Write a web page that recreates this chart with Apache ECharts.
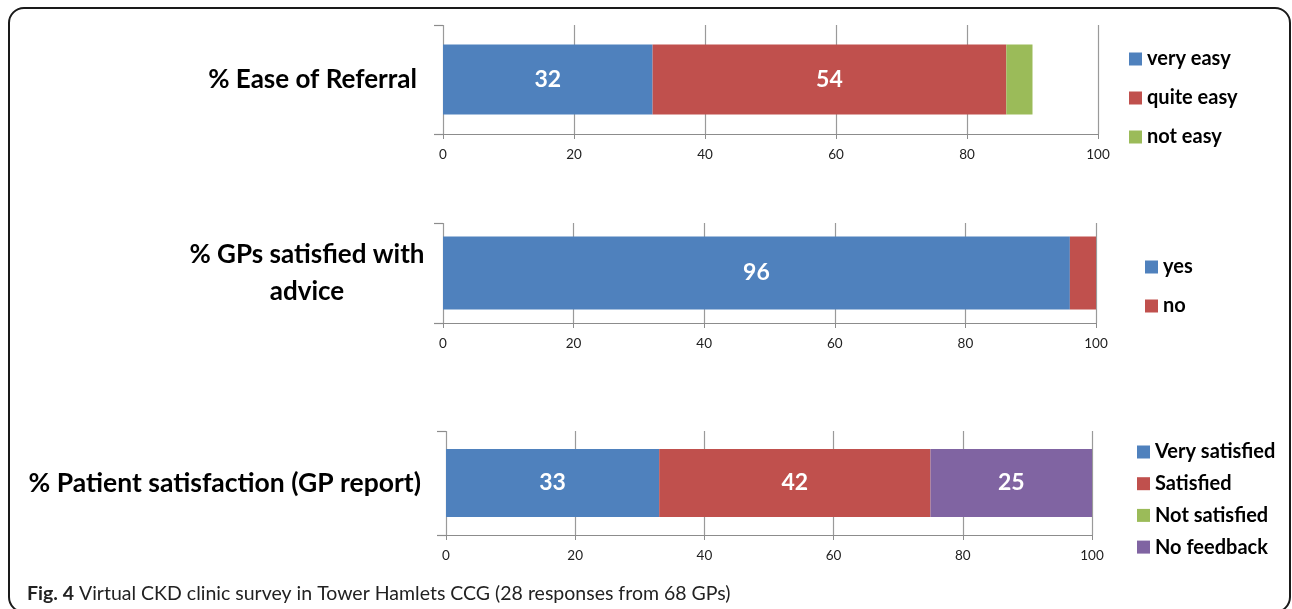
<!DOCTYPE html>
<html>
<head>
<meta charset="utf-8">
<script src="https://cdn.jsdelivr.net/npm/echarts@6/dist/echarts.min.js"></script>
<style>
html,body{margin:0;padding:0;background:#fff;}
#chart{width:1292px;height:609px;}
</style>
</head>
<body>
<div id="chart"></div>
<script>
// ---- data ----
const chartTitles = ['% Ease of Referral', '% GPs satisfied with\nadvice', '% Patient satisfaction (GP report)'];
const referralCats = ['very easy', 'quite easy', 'not easy'];
const referralVals = [32, 54, 4];
const adviceCats = ['yes', 'no'];
const adviceVals = [96, 4];
const patientCats = ['Very satisfied', 'Satisfied', 'Not satisfied', 'No feedback'];
const patientVals = [33, 42, 0, 25];
const xTicks = [0, 20, 40, 60, 80, 100];
const caption = ['Fig. 4', ' Virtual CKD clinic survey in Tower Hamlets CCG (28 responses from 68 GPs)'];

const colors = ['#4F81BD', '#C0504D', '#9BBB59', '#8064A2'];
const FONT = 'Lato';

const grids = [
  {left: 443, width: 655, top: 25, height: 109},
  {left: 443, width: 653, top: 223, height: 100},
  {left: 446, width: 646, top: 431, height: 104}
];
const barWidths = [70, 73, 68];
const groups = [
  {cats: referralCats, vals: referralVals},
  {cats: adviceCats, vals: adviceVals},
  {cats: patientCats, vals: patientVals}
];

const xAxis = [], yAxis = [], series = [], legend = [];
const yLabelCfg = [
  {align: 'right', margin: 26, size: 26},
  {align: 'center', margin: 136, size: 26},
  {align: 'right', margin: 25, size: 26.5}
];
groups.forEach((g, i) => {
  xAxis.push({
    type: 'value', gridIndex: i, min: 0, max: 100, interval: 20,
    axisLine: {show: true, lineStyle: {color: '#8c8c8c', width: 1.2}},
    axisTick: {show: true, length: 5, lineStyle: {color: '#8c8c8c'}},
    splitLine: {show: true, lineStyle: {color: '#9a9a9a', width: 1.2}},
    axisLabel: {color: '#222', fontFamily: FONT, fontSize: 13.5, margin: 14,
      formatter: v => xTicks.includes(v) ? String(v) : ''}
  });
  yAxis.push({
    type: 'category', gridIndex: i, data: [chartTitles[i]],
    axisLine: {show: false},
    axisTick: {show: true, length: 9, lineStyle: {color: '#8c8c8c', width: 1.2}},
    axisLabel: {color: '#000', fontFamily: FONT, fontWeight: 'bold', fontSize: yLabelCfg[i].size,
      lineHeight: 37, align: yLabelCfg[i].align, margin: yLabelCfg[i].margin}
  });
  g.cats.forEach((c, j) => {
    series.push({
      name: c, type: 'bar', stack: 's' + i, xAxisIndex: i, yAxisIndex: i,
      data: [g.vals[j]], barWidth: barWidths[i],
      itemStyle: {color: colors[j]},
      label: {show: g.vals[j] >= 10, color: '#fff', fontFamily: FONT, fontWeight: 'bold', fontSize: 23},
      emphasis: {disabled: true}, animation: false
    });
  });
});

const legendText = {fontFamily: FONT, fontWeight: 'bold', fontSize: 20, color: '#000', padding: [0, 0, 0, 0]};
legend.push({data: referralCats, orient: 'vertical', left: 1124, top: 44, itemWidth: 13, itemHeight: 13, itemGap: 19,
  icon: 'rect', textStyle: legendText});
legend.push({data: adviceCats, orient: 'vertical', left: 1140, top: 252, itemWidth: 13, itemHeight: 13, itemGap: 19,
  icon: 'rect', textStyle: legendText});
legend.push({data: patientCats, orient: 'vertical', left: 1132, top: 437, itemWidth: 13, itemHeight: 13, itemGap: 11.7,
  icon: 'rect', textStyle: legendText});

const chart = echarts.init(document.getElementById('chart'));
chart.setOption({
  animation: false,
  grid: grids,
  xAxis, yAxis, series, legend,
  title: {
    text: '{b|' + caption[0] + '}{r|' + caption[1] + '}',
    left: 22, top: 579,
    textStyle: {fontWeight: 'normal', rich: {
      b: {fontFamily: FONT, fontWeight: 'bold', fontSize: 19.5, color: '#222'},
      r: {fontFamily: FONT, fontWeight: 'normal', fontSize: 19.5, color: '#222'}
    }}
  },
  graphic: [{
    type: 'rect', silent: true,
    shape: {x: 9, y: 8, width: 1281, height: 604, r: 15},
    style: {fill: 'none', stroke: '#1a1a1a', lineWidth: 2}
  }]
});
</script>
</body>
</html>
